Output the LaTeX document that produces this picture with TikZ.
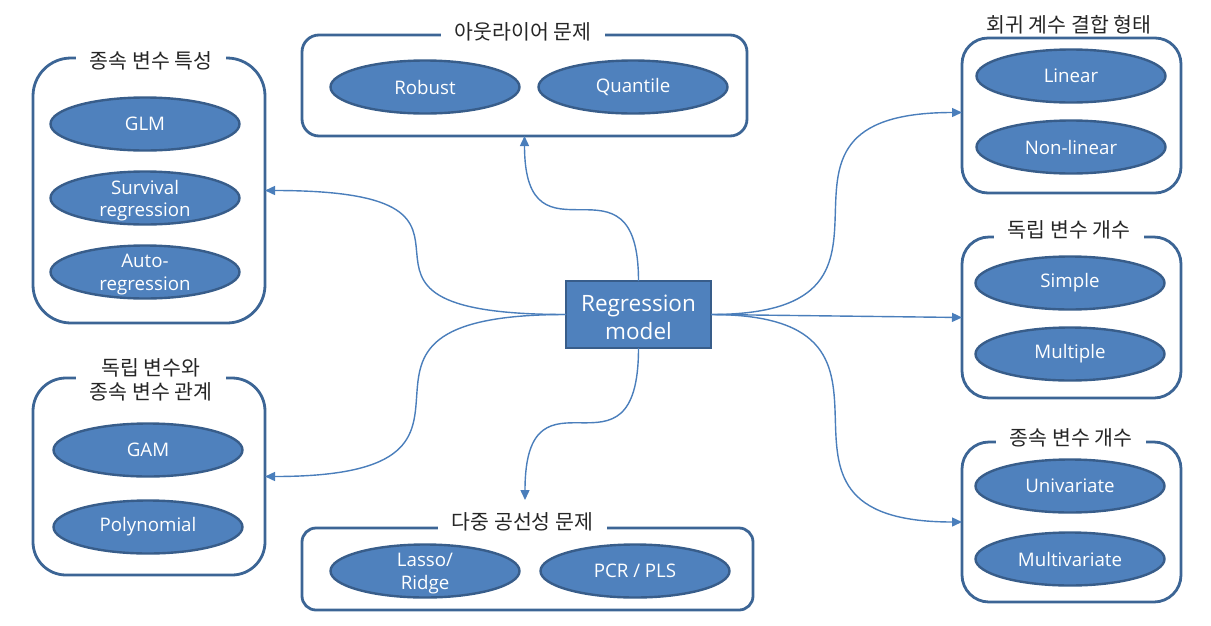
\documentclass[tikz,border=0pt]{standalone}
\usepackage{fontspec}
\setmainfont{Open Sans}
\newfontfamily\kr{Noto Sans CJK KR}
\usetikzlibrary{shapes.geometric,arrows.meta}
\definecolor{efill}{HTML}{4F81BD}
\definecolor{edraw}{HTML}{385D8A}
\definecolor{bdraw}{HTML}{3C6595}
\definecolor{arr}{HTML}{4A7EBB}
\begin{document}
\begin{tikzpicture}[x=1pt,y=-1pt,
  grp/.style={draw=bdraw, line width=2.8pt, inner sep=0pt, outer sep=0pt},
  ell/.style={ellipse, draw=edraw, fill=efill, line width=2.4pt, minimum width=189pt, minimum height=53pt, inner sep=0pt, outer sep=0pt},
  etxt/.style={text=white, align=center, inner sep=0pt, font=\fontsize{18.7}{22.5}\selectfont},
  etxtb/.style={etxt, yshift=-2.5pt},
  ttl/.style={fill=white, inner xsep=14pt, inner ysep=1pt, align=center, text=black!85, font=\kr\fontsize{20.5}{24.5}\selectfont},
  link/.style={draw=arr, line width=1.4pt, -{Triangle[length=10pt,width=9pt]}}]
\useasboundingbox (0,0) rectangle (1211,625);

% group boxes
\node[grp, rounded corners=38pt, minimum width=232pt, minimum height=265pt] (b1) at (149,190.5) {};
\node[grp, rounded corners=33pt, minimum width=232pt, minimum height=197pt] (b2) at (149,476.5) {};
\node[grp, rounded corners=17pt, minimum width=445pt, minimum height=101pt] (b3) at (524.5,85.5) {};
\node[grp, rounded corners=14pt, minimum width=451pt, minimum height=82pt] (b4) at (527.5,569) {};
\node[grp, rounded corners=26pt, minimum width=219pt, minimum height=155pt] (b5) at (1071.5,115.5) {};
\node[grp, rounded corners=27pt, minimum width=219pt, minimum height=161pt] (b6) at (1071.5,317.5) {};
\node[grp, rounded corners=27pt, minimum width=219pt, minimum height=160pt] (b7) at (1071.5,522) {};

% titles
\node[ttl] (t1) at (151,61) {종속 변수 특성};
\node[ttl] (t2) at (151,380) {독립 변수와\\종속 변수 관계};
\node[ttl] (t3) at (523,32) {아웃라이어 문제};
\node[ttl] (t4) at (522.5,522) {다중 공선성 문제};
\node[ttl] (t5) at (1069,25) {회귀 계수 결합 형태};
\node[ttl] (t6) at (1069,230) {독립 변수 개수};
\node[ttl] (t7) at (1071,438) {종속 변수 개수};

% ellipses
\node[ell, label={[etxt]center:GLM}] (e11) at (145,124) {};
\node[ell, label={[etxtb]center:Survival\\regression}] (e12) at (145,198) {};
\node[ell, label={[etxtb]center:Auto-\\regression}] (e13) at (145,272) {};
\node[ell, label={[etxt]center:GAM}] (e21) at (148,450) {};
\node[ell, label={[etxt]center:Polynomial}] (e22) at (148,527) {};
\node[ell, label={[etxt]center:Robust}] (e31) at (425,87) {};
\node[ell, label={[etxt]center:Quantile}] (e32) at (633,87) {};
\node[ell, label={[etxtb]center:Lasso/\\Ridge}] (e41) at (425,571) {};
\node[ell, label={[etxt]center:PCR / PLS}] (e42) at (635,571) {};
\node[ell, label={[etxt]center:Linear}] (e51) at (1071,76) {};
\node[ell, label={[etxt]center:Non-linear}] (e52) at (1071,147) {};
\node[ell, label={[etxt]center:Simple}] (e61) at (1070,283) {};
\node[ell, label={[etxt]center:Multiple}] (e62) at (1070,354) {};
\node[ell, label={[etxt]center:Univariate}] (e71) at (1070,486) {};
\node[ell, label={[etxt]center:Multivariate}] (e72) at (1070,559) {};

% center
\node[draw=edraw, fill=efill, line width=2.8pt, minimum width=145pt, minimum height=67pt, inner sep=0pt, outer sep=0pt] (c) at (638.5,314.5) {};
\node[text=white, align=center, inner sep=0pt, yshift=-2.5pt, font=\fontsize{22.5}{28}\selectfont] (ct) at (c.center) {Regression\\model};

\coordinate (d4) at (525,500);

% connectors
\draw[link] (c.west) .. controls +(-285,0) and +(285,0) .. (b1.east);
\draw[link] (c.west) .. controls +(-285,0) and +(285,0) .. (b2.east);
\draw[link] (c.north) .. controls +(0,-140) and +(0,140) .. (b3.south);
\draw[link] (c.south) .. controls +(0,148) and +(0,-148) .. (d4);
\draw[link] (c.east) .. controls +(240,0) and +(-240,0) .. ([yshift=3pt]b5.west);
\draw[link] (c.east) -- (b6.west);
\draw[link] (c.east) .. controls +(240,0) and +(-240,0) .. (b7.west);
\end{tikzpicture}
\end{document}
